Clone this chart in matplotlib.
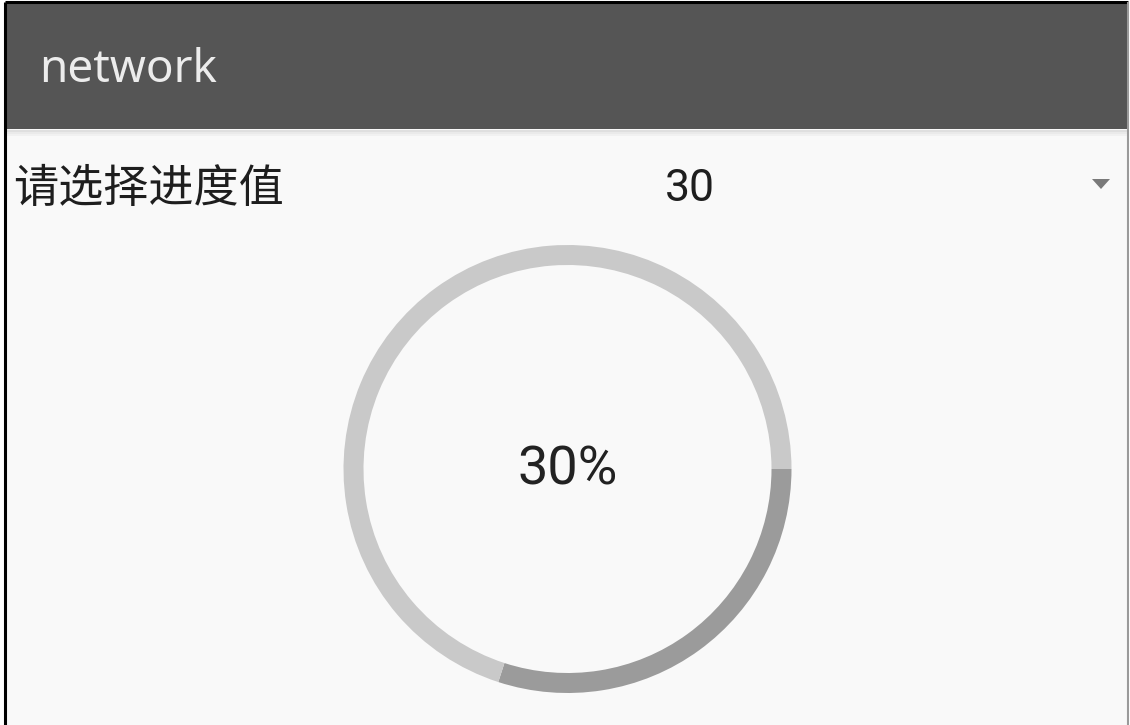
import matplotlib
matplotlib.use("Agg")
import matplotlib.pyplot as plt
from matplotlib.patches import Rectangle, Polygon

# ---- data ----
app_title = "network"
prompt_label = "请选择进度值"
selected_value = 30
progress_parts = [selected_value, 100 - selected_value]   # done, remaining
center_label = f"{selected_value}%"

W, H = 1130, 725
fig = plt.figure(figsize=(W / 100, H / 100), dpi=100)
fig.patch.set_facecolor("white")
ax = fig.add_axes([0, 0, 1, 1])

def Y(y):  # convert top-down pixel to axes y
    return H - y

# body background
ax.add_patch(Rectangle((5, 0), 1123, Y(3), facecolor="#f9f9f9", edgecolor="none", zorder=0))
# header bar
ax.add_patch(Rectangle((5, Y(129)), 1123, 126, facecolor="#555555", edgecolor="none", zorder=1))
# subtle shadow under header
for i, a in enumerate([0.10, 0.06, 0.03]):
    ax.add_patch(Rectangle((5, Y(130 + i * 2) - 2), 1123, 2, facecolor="black", alpha=a,
                           edgecolor="none", zorder=1))
# frame borders
ax.plot([5, 5], [0, Y(2)], color="black", lw=2.2, zorder=5, solid_capstyle="butt")
ax.plot([5, 1128], [Y(2), Y(2)], color="black", lw=2.2, zorder=5, solid_capstyle="butt")
ax.plot([1128, 1128], [0, Y(2)], color="#9a9a9a", lw=1.5, zorder=5, solid_capstyle="butt")

# texts
ax.text(39, Y(70), app_title, color="#ececec", fontsize=33, family="Noto Sans",
        ha="left", va="center", zorder=3)
ax.text(13, Y(189), prompt_label, color="#1e1e1e", fontsize=32.5,
        family=["Noto Sans CJK SC", "DejaVu Sans"], ha="left", va="center", zorder=3)
ax.text(690, Y(189), str(selected_value), color="#1e1e1e", fontsize=32, family="Roboto",
        ha="center", va="center", zorder=3)
# dropdown triangle
ax.add_patch(Polygon([[1092, Y(179)], [1110, Y(179)], [1101, Y(189)]], closed=True,
                     facecolor="#7a7a7a", edgecolor="none", zorder=3))

# progress ring
ax.pie(progress_parts, colors=["#9b9b9b", "#c9c9c9"], startangle=0, counterclock=False,
       radius=224, center=(567.5, Y(469)),
       wedgeprops=dict(width=20, linewidth=0), frame=True)
ax.text(568, Y(470), center_label, color="#222222", fontsize=39, family="Roboto",
        ha="center", va="center", zorder=3)

ax.set_xlim(0, W)
ax.set_ylim(0, H)
ax.set_aspect("auto")
ax.axis("off")
fig.savefig("out.png", dpi=100, facecolor="white")
